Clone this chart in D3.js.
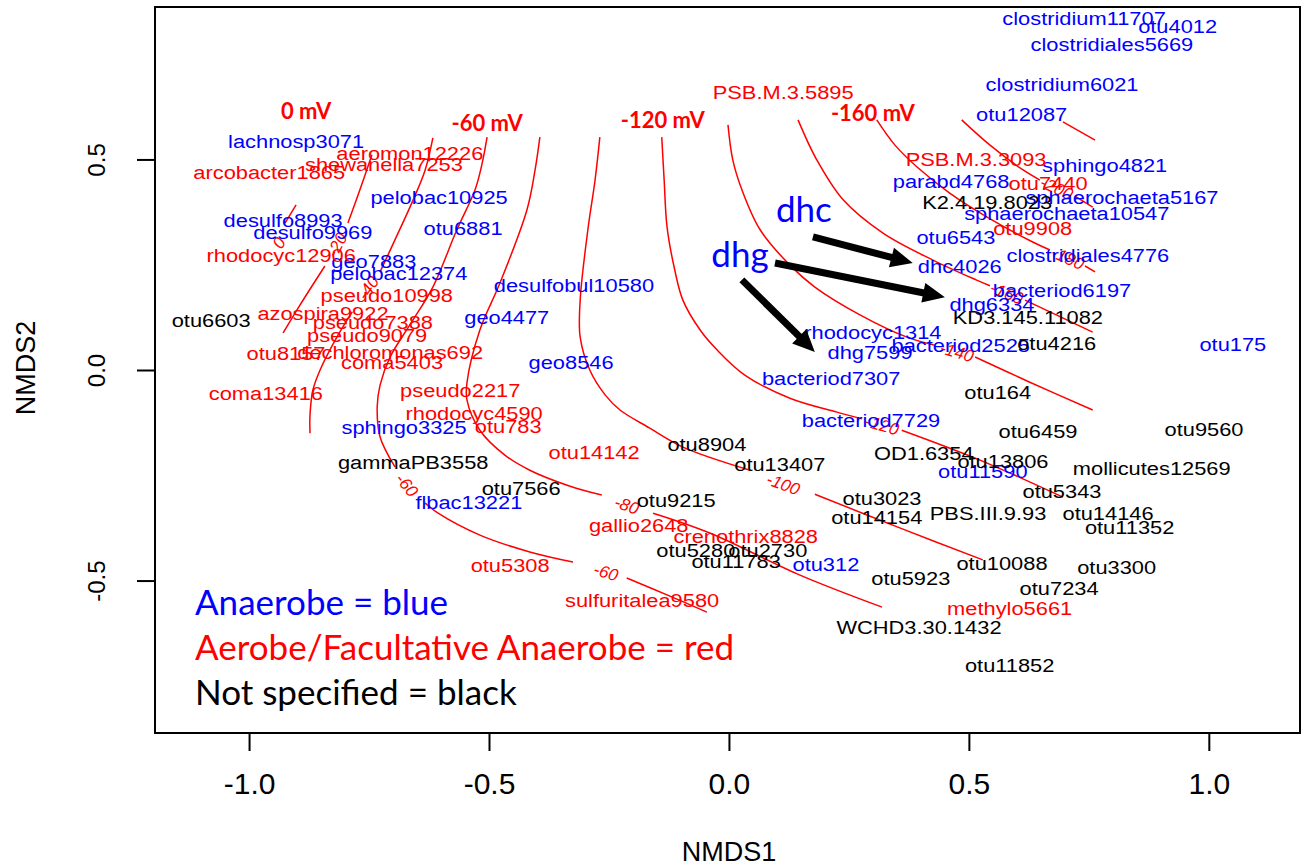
<!DOCTYPE html>
<html><head><meta charset="utf-8">
<script src="https://cdn.jsdelivr.net/npm/d3@7"></script>
<style>body{margin:0;background:#fff;} svg{display:block;}</style>
</head><body><svg id="c" width="1306" height="866"></svg>
<script>
// ---------- data ----------
const xTicks = [-1.0, -0.5, 0.0, 0.5, 1.0];
const yTicks = [-0.5, 0.0, 0.5];
const xLim = [-1.196, 1.19];
const yLim = [-0.862, 0.862];

const blueLabels = [
  ["clostridium11707",0.740,0.836],["otu4012",0.935,0.815],["clostridiales5669",0.798,0.774],
  ["clostridium6021",0.694,0.679],["otu12087",0.610,0.606],["sphingo4821",0.783,0.487],
  ["parabd4768",0.463,0.447],["sphaerochaeta5167",0.819,0.411],["sphaerochaeta10547",0.704,0.373],
  ["otu6543",0.473,0.314],["clostridiales4776",0.748,0.273],["dhc4026",0.481,0.245],
  ["bacteriod6197",0.694,0.188],["dhg6334",0.548,0.157],["rhodocyc1314",0.300,0.090],
  ["dhg7599",0.294,0.043],["bacteriod2525",0.483,0.059],["otu175",1.050,0.062],
  ["bacteriod7307",0.213,-0.019],["bacteriod7729",0.296,-0.119],["otu11590",0.529,-0.240],
  ["otu312",0.202,-0.461],["lachnosp3071",-0.902,0.542],["pelobac10925",-0.604,0.411],
  ["desulfo8993",-0.929,0.356],["desulfo9969",-0.867,0.328],["otu6881",-0.554,0.337],
  ["geo7883",-0.740,0.257],["pelobac12374",-0.688,0.230],["desulfobul10580",-0.323,0.202],
  ["geo4477",-0.463,0.124],["geo8546",-0.329,0.017],["sphingo3325",-0.677,-0.135],
  ["flbac13221",-0.542,-0.314]
];
const redLabels = [
  ["PSB.M.3.5895",0.113,0.660],["PSB.M.3.3093",0.515,0.501],["otu7440",0.665,0.444],
  ["otu9908",0.633,0.337],["aeromon12226",-0.665,0.515],["shewanella7253",-0.719,0.489],
  ["arcobacter1865",-0.958,0.470],["rhodocyc12906",-0.933,0.273],["pseudo10998",-0.713,0.178],
  ["azospira9922",-0.846,0.135],["pseudo7388",-0.742,0.114],["pseudo9079",-0.754,0.083],
  ["otu8157",-0.923,0.040],["dechloromonas692",-0.706,0.043],["coma5403",-0.702,0.017],
  ["coma13416",-0.965,-0.055],["pseudo2217",-0.560,-0.048],["rhodocyc4590",-0.531,-0.102],
  ["otu783",-0.460,-0.133],["otu14142",-0.281,-0.195],["gallio2648",-0.188,-0.368],
  ["crenothrix8828",0.035,-0.394],["otu5308",-0.456,-0.463],["sulfuritalea9580",-0.181,-0.546],
  ["methylo5661",0.585,-0.565]
];
const blackLabels = [
  ["K2.4.19.8023",0.538,0.399],["KD3.145.11082",0.623,0.126],["otu4216",0.683,0.064],
  ["otu6603",-1.079,0.119],["otu164",0.560,-0.052],["otu6459",0.644,-0.145],
  ["otu9560",0.990,-0.140],["otu8904",-0.046,-0.176],["otu13407",0.106,-0.223],
  ["OD1.6354",0.406,-0.197],["otu13806",0.571,-0.216],["mollicutes12569",0.881,-0.233],
  ["gammaPB3558",-0.658,-0.219],["otu7566",-0.433,-0.280],["otu9215",-0.110,-0.309],
  ["otu5343",0.694,-0.287],["otu3023",0.319,-0.304],["PBS.III.9.93",0.540,-0.340],
  ["otu14146",0.790,-0.340],["otu14154",0.308,-0.349],["otu11352",0.835,-0.373],
  ["otu5280",-0.069,-0.428],["otu2730",0.081,-0.428],["otu11783",0.015,-0.454],
  ["otu10088",0.569,-0.458],["otu3300",0.808,-0.468],["otu5923",0.379,-0.494],
  ["otu7234",0.688,-0.518],["WCHD3.30.1432",0.396,-0.610],["otu11852",0.585,-0.701]
];

// contour lines of redox potential (mV); labels sit in the gaps between parts
const contours = [
  {level:"0", parts:[[[-0.902,0.392],[-0.925,0.349]]], labels:[[-0.938,0.302]]},
  {level:"-20", parts:[[[-0.744,0.511],[-0.769,0.428],[-0.794,0.349]],
                      [[-0.842,0.247],[-0.894,0.154],[-0.929,0.088]]], labels:[[-0.817,0.297]]},
  {level:"-40", parts:[[[-0.617,0.551],[-0.633,0.475],[-0.658,0.404],[-0.696,0.309],[-0.727,0.233]],
                      [[-0.785,0.138],[-0.817,0.078],[-0.852,0.000],[-0.867,-0.048],[-0.873,-0.107],[-0.873,-0.150]]],
   labels:[[-0.752,0.195]]},
  {level:"-60", parts:[[[-0.504,0.553],[-0.515,0.487],[-0.529,0.428],[-0.567,0.333],[-0.617,0.197],[-0.665,0.107],
                        [-0.706,0.031],[-0.727,-0.036],[-0.733,-0.088],[-0.727,-0.159],[-0.696,-0.230]],
                       [[-0.633,-0.316],[-0.606,-0.340],[-0.519,-0.392],[-0.415,-0.432],[-0.325,-0.456]],
                       [[-0.213,-0.494],[-0.123,-0.537],[-0.046,-0.575]]],
   labels:[[-0.671,-0.273],[-0.256,-0.480]]},
  {level:"-80", parts:[[[-0.394,0.553],[-0.404,0.475],[-0.421,0.380],[-0.477,0.207],[-0.519,0.095],[-0.546,-0.031],
                        [-0.546,-0.071],[-0.519,-0.143],[-0.467,-0.202],[-0.415,-0.238],[-0.331,-0.276],[-0.265,-0.297]],
                       [[-0.158,-0.340],[-0.040,-0.387],[0.148,-0.487],[0.319,-0.563]]],
   labels:[[-0.213,-0.321]]},
  {level:"-100", parts:[[[-0.269,0.553],[-0.279,0.451],[-0.294,0.333],[-0.310,0.166],[-0.310,0.078],[-0.290,0.000],
                         [-0.258,-0.059],[-0.227,-0.095],[-0.165,-0.138],[-0.096,-0.183],[0.044,-0.238]],
                        [[0.179,-0.295],[0.356,-0.375],[0.529,-0.451]]],
   labels:[[0.113,-0.271]]},
  {level:"-120", parts:[[[-0.140,0.553],[-0.135,0.451],[-0.129,0.340],[-0.113,0.238],[-0.096,0.166],[-0.060,0.095],
                         [-0.025,0.048],[0.033,-0.012],[0.127,-0.067],[0.225,-0.100],[0.277,-0.116]],
                        [[0.360,-0.143],[0.523,-0.214],[0.696,-0.302]]],
   labels:[[0.319,-0.131]]},
  {level:"-140", parts:[[[-0.002,0.582],[0.008,0.499],[0.027,0.428],[0.065,0.333],[0.127,0.249],[0.179,0.197],
                         [0.273,0.131],[0.371,0.078],[0.429,0.059]],
                        [[0.513,0.031],[0.627,-0.029],[0.758,-0.095]]],
   labels:[[0.475,0.043]]},
  {level:"-160", parts:[[[0.144,0.594],[0.183,0.499],[0.238,0.404],[0.321,0.325],[0.425,0.261],[0.515,0.214],[0.544,0.200]],
                        [[0.617,0.166],[0.758,0.090]]],
   labels:[[0.579,0.183]]},
  {level:"-180", parts:[[[0.308,0.594],[0.346,0.534],[0.392,0.482],[0.460,0.420],[0.538,0.363],[0.633,0.304],[0.669,0.285]],
                        [[0.742,0.247],[0.763,0.233]]],
   labels:[[0.706,0.266]]},
  {level:"-200", parts:[[[0.485,0.594],[0.544,0.534],[0.613,0.475],[0.648,0.451]],
                        [[0.721,0.413],[0.758,0.387]]],
   labels:[[0.683,0.432]]},
  {level:"-220", parts:[[[0.696,0.589],[0.763,0.546]]], labels:[]}
];

const mvLabels = [["0 mV",-0.881,0.615],["-60 mV",-0.504,0.587],["-120 mV",-0.138,0.594],["-160 mV",0.300,0.610]];
const groupLabels = [["dhc",0.156,0.380],["dhg",0.023,0.273]];
const arrows = [[0.175,0.316,0.383,0.254],[0.096,0.254,0.450,0.173],[0.027,0.214,0.179,0.043]];
const legendTexts = ["Anaerobe = blue","Aerobe/Facultative Anaerobe = red","Not specified = black"];
const legendColors = ["#0000ff","#ff0000","#000000"];

// ---------- drawing ----------
const svg = d3.select("#c");
const x = d3.scaleLinear().domain(xLim).range([155,1300]);
const y = d3.scaleLinear().domain(yLim).range([733,7]);
const RED = "#ff0000", BLUE = "#0000ff";
const SANS = "'Liberation Sans', Arial, sans-serif";
const CAL = "Lato, 'Open Sans', sans-serif";

// contour lines
const line = d3.line().x(d=>x(d[0])).y(d=>y(d[1])).curve(d3.curveCatmullRom.alpha(0.5));
const cg = svg.append("g");
contours.forEach(c=>{
  c.parts.forEach(p=>{
    cg.append("path").attr("d",line(p)).attr("fill","none").attr("stroke",RED).attr("stroke-width",1.5);
  });
  c.labels.forEach((lab,i)=>{
    let a,b;
    const prev = c.parts[i], next = c.parts[i+1];
    if(next){a=prev[prev.length-1]; b=next[0];}
    else {a=prev[prev.length-2]; b=prev[prev.length-1];}
    let ang = Math.atan2(y(b[1])-y(a[1]), x(b[0])-x(a[0]))*180/Math.PI;
    if(ang>90) ang-=180; if(ang<-90) ang+=180;
    cg.append("text").attr("transform",`translate(${x(lab[0])},${y(lab[1])}) rotate(${ang})`)
      .attr("text-anchor","middle").attr("dy","0.35em")
      .attr("font-family",SANS).attr("font-style","italic").attr("font-size",17)
      .attr("fill",RED).text(c.level);
  });
});

// species labels
function drawLabels(arr,color){
  svg.append("g").selectAll("text").data(arr).join("text")
    .attr("transform",d=>`translate(${x(d[1])},${y(d[2])}) scale(1.15,1)`)
    .attr("text-anchor","middle").attr("dy","0.35em")
    .attr("font-family",SANS).attr("font-size",19).attr("fill",color).text(d=>d[0]);
}
drawLabels(blueLabels,BLUE);
drawLabels(redLabels,RED);
drawLabels(blackLabels,"#000");

// mV labels
svg.append("g").selectAll("text").data(mvLabels).join("text")
  .attr("x",d=>x(d[1])).attr("y",d=>y(d[2])).attr("dy","0.35em").attr("text-anchor","middle")
  .attr("font-family",CAL).attr("font-weight","bold").attr("font-size",22).attr("fill",RED).text(d=>d[0]);

// dhc / dhg
svg.append("g").selectAll("text").data(groupLabels).join("text")
  .attr("x",d=>x(d[1])).attr("y",d=>y(d[2])).attr("dy","0.35em").attr("text-anchor","middle")
  .attr("font-family",CAL).attr("font-size",35).attr("fill",BLUE).text(d=>d[0]);

// arrows
const ag = svg.append("g");
arrows.forEach(a=>{
  const x1=x(a[0]), y1=y(a[1]), x2=x(a[2]), y2=y(a[3]);
  const dx=x2-x1, dy=y2-y1, L=Math.hypot(dx,dy), ux=dx/L, uy=dy/L;
  const hl=22, hw=10;
  const bx=x2-ux*hl, by=y2-uy*hl;
  ag.append("line").attr("x1",x1).attr("y1",y1).attr("x2",bx+ux*2).attr("y2",by+uy*2)
    .attr("stroke","#000").attr("stroke-width",7);
  ag.append("polygon").attr("points",`${x2},${y2} ${bx-uy*hw},${by+ux*hw} ${bx+uy*hw},${by-ux*hw}`).attr("fill","#000");
});

// legend
svg.append("g").selectAll("text").data(legendTexts).join("text")
  .attr("x",195).attr("y",(d,i)=>603+i*45).attr("dy","0.35em")
  .attr("font-family",CAL).attr("font-size",35).attr("fill",(d,i)=>legendColors[i]).text(d=>d);

// axes
const fmt = d=>d.toFixed(1);
const xa = svg.append("g").attr("transform","translate(0,733)")
  .call(d3.axisBottom(x).tickValues(xTicks).tickFormat(fmt).tickSize(18).tickSizeOuter(0).tickPadding(22));
xa.select(".domain").remove();
xa.selectAll("line").attr("stroke-width",2);
xa.selectAll("text").attr("font-family",SANS).attr("font-size",30).attr("fill","#000");

const ya = svg.append("g").attr("transform","translate(155,0)")
  .call(d3.axisLeft(y).tickValues(yTicks).tickFormat(fmt).tickSize(18).tickSizeOuter(0));
ya.select(".domain").remove();
ya.selectAll("line").attr("stroke-width",2);
ya.selectAll("text").attr("font-family",SANS).attr("font-size",24).attr("fill","#000")
  .attr("text-anchor","middle").attr("dy",0).attr("x",0).attr("y",0)
  .attr("transform","translate(-50,0) rotate(-90)");

// box
svg.append("rect").attr("x",155).attr("y",7).attr("width",1145).attr("height",726)
  .attr("fill","none").attr("stroke","#000").attr("stroke-width",2);

// axis titles
svg.append("text").attr("x",729).attr("y",861).attr("text-anchor","middle")
  .attr("font-family",SANS).attr("font-size",27).text("NMDS1");
svg.append("text").attr("transform","translate(35,368) rotate(-90)").attr("text-anchor","middle")
  .attr("font-family",SANS).attr("font-size",27).text("NMDS2");
</script></body></html>
